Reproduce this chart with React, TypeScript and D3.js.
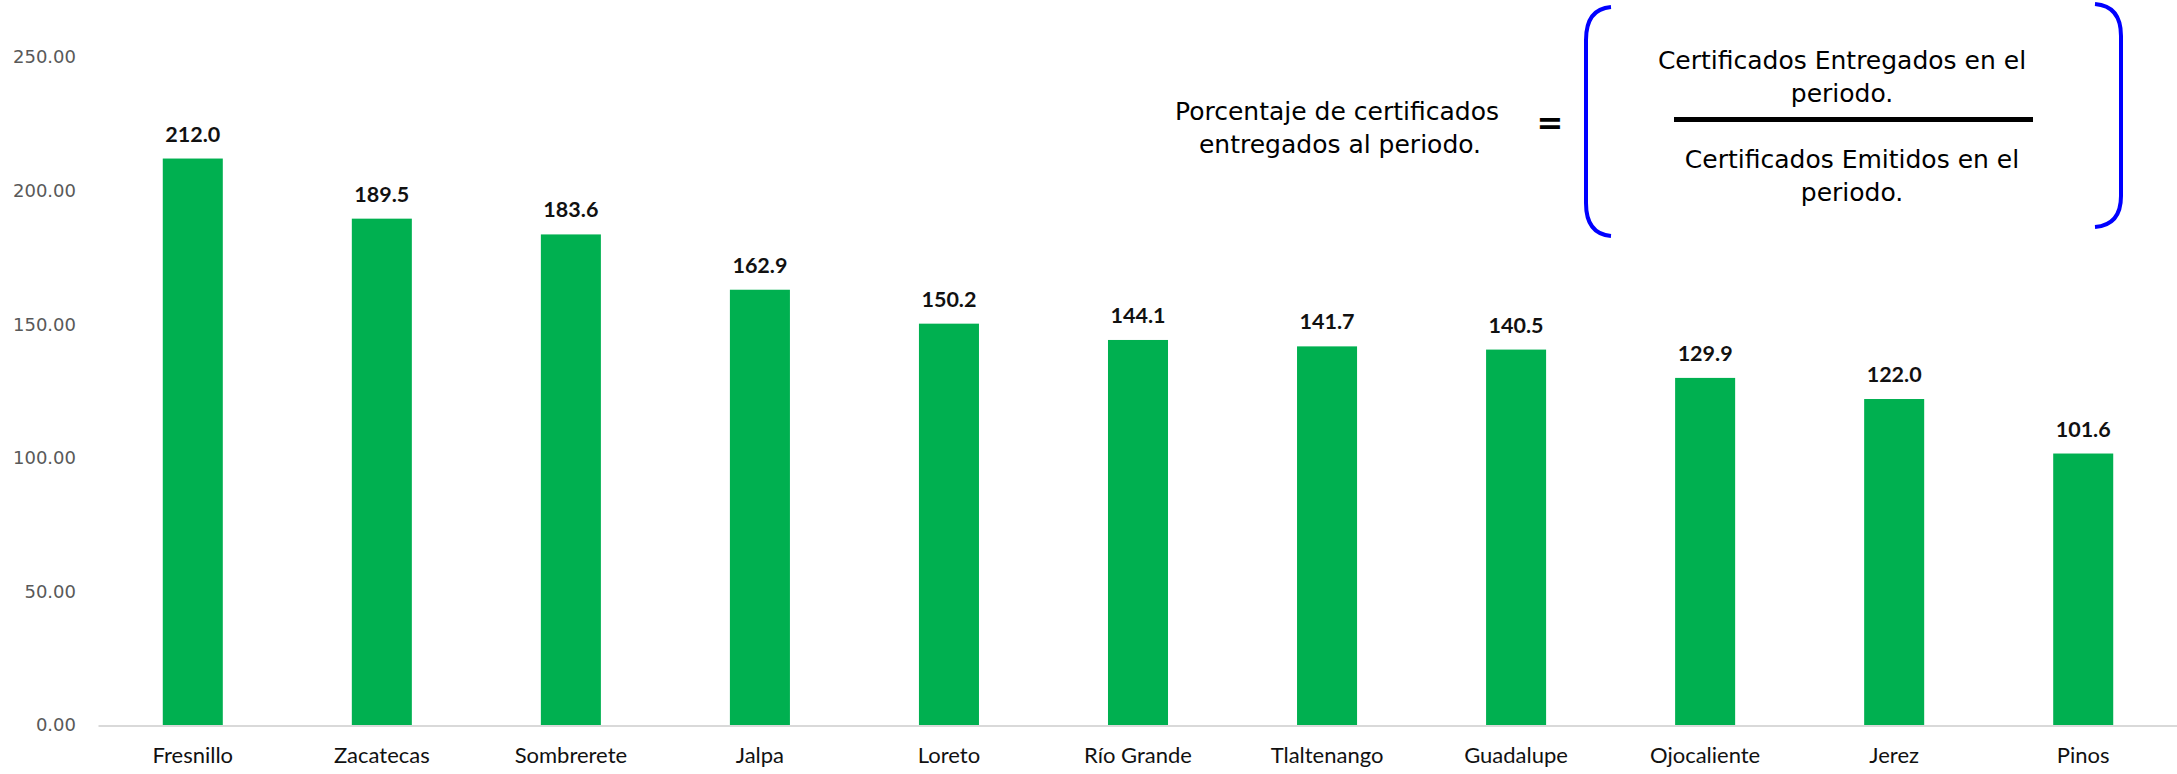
import * as d3 from "d3";

const municipios = [
  "Fresnillo",
  "Zacatecas",
  "Sombrerete",
  "Jalpa",
  "Loreto",
  "Río Grande",
  "Tlaltenango",
  "Guadalupe",
  "Ojocaliente",
  "Jerez",
  "Pinos",
];
const porcentajes = [212.0, 189.5, 183.6, 162.9, 150.2, 144.1, 141.7, 140.5, 129.9, 122.0, 101.6];
const yTicks = [0, 50, 100, 150, 200, 250];

const formulaLeft = ["Porcentaje de certificados", "entregados al periodo."];
const numerador = ["Certificados Entregados en el", "periodo."];
const denominador = ["Certificados Emitidos en el", "periodo."];

const W = 2177;
const H = 774;
const margin = { top: 57, right: 0, bottom: 49, left: 98.5 };

const App = () => {
  const x = d3
    .scaleBand<string>()
    .domain(municipios)
    .range([margin.left, W - margin.right + 0.5])
    .paddingInner(0.6825)
    .paddingOuter(0.34);

  const y = d3
    .scaleLinear()
    .domain([0, 250])
    .range([H - margin.bottom, margin.top]);

  const fmtTick = d3.format(".2f");
  const fmtVal = d3.format(".1f");

  // formula brackets
  const bracketL = d3.path();
  bracketL.moveTo(1611, 7);
  bracketL.quadraticCurveTo(1586, 9, 1586, 40);
  bracketL.lineTo(1586, 203);
  bracketL.quadraticCurveTo(1586, 234, 1611, 236);

  const bracketR = d3.path();
  bracketR.moveTo(2095, 4);
  bracketR.quadraticCurveTo(2121, 6, 2121, 36);
  bracketR.lineTo(2121, 196);
  bracketR.quadraticCurveTo(2121, 225, 2095, 227);

  const formulaFont = "'DejaVu Sans', Verdana, sans-serif";

  return (
    <svg
      width={W}
      height={H}
      style={{ position: "absolute", left: 0, top: 0, background: "#fff" }}
    >
      {/* y axis labels */}
      <g fontFamily="'DejaVu Sans', Verdana, sans-serif" fontSize={18} fill="#595959">
        {yTicks.map((t) => (
          <text key={t} x={76} y={y(t)} dy="0.36em" textAnchor="end">
            {fmtTick(t)}
          </text>
        ))}
      </g>

      {/* bars */}
      <g>
        {municipios.map((m, i) => (
          <rect
            key={m}
            x={x(m)}
            y={y(porcentajes[i])}
            width={x.bandwidth()}
            height={y(0) - y(porcentajes[i])}
            fill="#00b050"
          />
        ))}
      </g>

      {/* baseline */}
      <line x1={margin.left} x2={W} y1={y(0) + 1} y2={y(0) + 1} stroke="#d9d9d9" strokeWidth={2} />

      {/* value labels */}
      <g fontFamily="Lato, 'Open Sans', sans-serif" fontWeight="bold" fontSize={21.5} fill="#111" textAnchor="middle">
        {municipios.map((m, i) => (
          <text key={m} x={(x(m) ?? 0) + x.bandwidth() / 2} y={y(porcentajes[i]) - 17}>
            {fmtVal(porcentajes[i])}
          </text>
        ))}
      </g>

      {/* category labels */}
      <g fontFamily="Lato, 'Open Sans', sans-serif" fontSize={22} fill="#111" textAnchor="middle">
        {municipios.map((m) => (
          <text key={m} x={(x(m) ?? 0) + x.bandwidth() / 2} y={763}>
            {m}
          </text>
        ))}
      </g>

      {/* formula */}
      <g fontFamily={formulaFont} fontSize={25} fill="#000" textAnchor="middle">
        <text x={1337} y={120}>{formulaLeft[0]}</text>
        <text x={1340} y={153}>{formulaLeft[1]}</text>
        <text x={1550} y={134} fontWeight="bold" fontSize={32}>=</text>
        <text x={1842} y={69}>{numerador[0]}</text>
        <text x={1842} y={102}>{numerador[1]}</text>
        <text x={1852} y={168}>{denominador[0]}</text>
        <text x={1852} y={201}>{denominador[1]}</text>
      </g>
      <line x1={1674} x2={2033} y1={119.5} y2={119.5} stroke="#000" strokeWidth={5} />
      <path d={bracketL.toString()} fill="none" stroke="#0000ff" strokeWidth={4} />
      <path d={bracketR.toString()} fill="none" stroke="#0000ff" strokeWidth={4} />
    </svg>
  );
};

export default App;
